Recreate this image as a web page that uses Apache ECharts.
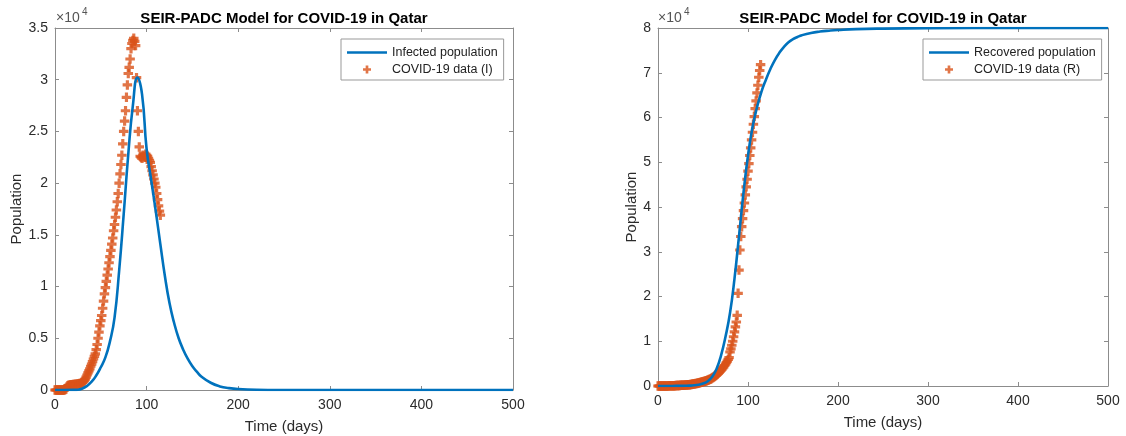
<!DOCTYPE html>
<html>
<head>
<meta charset="utf-8">
<title>SEIR-PADC Model for COVID-19 in Qatar</title>
<script src="https://cdn.jsdelivr.net/npm/echarts/dist/echarts.min.js"></script>
<style>
  html, body { margin: 0; padding: 0; background: #fff; }
  #box { width: 1126px; height: 436px; }
</style>
</head>
<body>
<div id="box"></div>
<script>
const modelDays = [0, 10, 20, 25, 30, 35, 40, 45, 50, 55, 60, 65, 70, 75, 80, 85, 90, 95, 100, 105,
  110, 115, 120, 125, 130, 135, 140, 145, 150, 155, 160, 170, 180, 190, 200, 220, 250, 300, 400, 500];

// SEIR-PADC model, infected population
const infectedModel = [0, 0, 10, 30, 150, 400, 800, 1400, 2200, 3150, 4700, 7000, 11500, 17000, 22800, 27500, 30200, 28600, 23300, 20300,
  17300, 14100, 11000, 8400, 6500, 5000, 3900, 3000, 2300, 1750, 1290, 700, 350, 180, 90, 25, 5, 0, 0, 0];

// SEIR-PADC model, recovered population
const recoveredModel = [0, 0, 20, 30, 50, 80, 150, 300, 550, 1000, 2000, 3800, 6800, 11000, 16300, 24000, 33500, 43200, 51500, 57800,
  62300, 65800, 68500, 70900, 72900, 74500, 75800, 76800, 77500, 78000, 78400, 78900, 79200, 79400, 79550, 79750, 79870, 79950, 80000, 80000];

// reported data (I), one value per day starting at day 0
const infectedData = [
  0, 0, 0, 0, 0, 0, 0, 0, 0, 0, 0,
  50, 100, 300, 400, 450, 450, 480, 500, 500, 520,
  520, 540, 550, 560, 580, 600, 620, 640, 680, 720,
  800, 900, 1050, 1250, 1450, 1650, 1850, 2050, 2300, 2500,
  2750, 3000, 3250, 3500, 3900, 4400, 5000, 5600, 6200, 6700,
  7200, 7900, 8600, 9300, 9900, 10500, 11100, 11700, 12300, 12900,
  13500, 14100, 14700, 15400, 16000, 16700, 17400, 18200, 19000, 20000,
  20900, 21800, 22700, 23800, 25000, 26000, 27000, 28300, 29500, 30600,
  31200, 32000, 33000, 33500, 33800, 34000, 33700, 33300, 30200, 27000,
  25000, 23500, 22600, 22500, 22400, 22700, 22600, 22500, 22800, 22700,
  22600, 22400, 22200, 22000, 21600, 21200, 20800, 20400, 20000, 19600,
  19000, 18400, 17800, 17300, 16900
];

// reported data (R), one value per day starting at day 0
const recoveredData = [
  0, 0, 0, 0, 0, 0, 0, 0, 10, 10,
  20, 20, 30, 30, 40, 40, 50, 60, 70, 80,
  90, 100, 110, 120, 130, 140, 150, 160, 170, 180,
  200, 220, 240, 260, 280, 300, 330, 360, 390, 420,
  460, 500, 540, 580, 620, 670, 720, 780, 840, 900,
  970, 1000, 1060, 1120, 1190, 1260, 1340, 1430, 1530, 1640,
  1760, 1890, 2030, 2180, 2340, 2510, 2690, 2880, 3080, 3300,
  3530, 3770, 4020, 4290, 4580, 4890, 5220, 5570, 5940, 6330,
  7600, 8300, 9100, 10000, 11000, 12100, 13200, 14300, 15800,
  20700, 25900, 30400, 33400, 35600, 37400, 39200, 40900, 42700, 44500,
  46200, 48000, 49700, 51500, 53200, 55000, 56700, 58500, 60200, 62000,
  63700, 65500, 67200, 69000, 70500, 71800
];

const xTicks = [0, 100, 200, 300, 400, 500];

const blue = '#0072BD';
const orange = '#D95319';
const boxColor = '#8c8c8c';
const labelColor = '#2b2b2b';
const font = '"Liberation Sans", Arial, sans-serif';
const plus = 'path://M3,0H6V3H9V6H6V9H3V6H0V3H3Z';
const lineIcon = 'path://M0,0H40V2.6H0Z';

const containerDom = document.getElementById('box');
const myChart = echarts.init(containerDom, null, { renderer: 'canvas' });

// MATLAB style box: ticks inside on all four sides
const axisBase = (gridIndex, position, showLabel) => ({
  gridIndex: gridIndex,
  type: 'value',
  position: position,
  axisLine: { show: true, onZero: false, lineStyle: { color: boxColor, width: 1 } },
  axisTick: { show: true, inside: true, length: 4, lineStyle: { color: boxColor } },
  axisLabel: { show: showLabel, color: labelColor, fontSize: 14, fontFamily: font, margin: 8 },
  splitLine: { show: false }
});

const xAxis = (gridIndex, position, showLabel) => Object.assign(axisBase(gridIndex, position, showLabel), {
  min: xTicks[0],
  max: xTicks[xTicks.length - 1],
  interval: xTicks[1] - xTicks[0],
  name: showLabel ? 'Time (days)' : '',
  nameLocation: 'middle',
  nameGap: 29,
  nameTextStyle: { fontSize: 15, color: labelColor, fontFamily: font }
});

const yAxis = (gridIndex, position, showLabel, max, step, nameGap) => {
  const ax = Object.assign(axisBase(gridIndex, position, showLabel), {
    min: 0,
    max: max,
    interval: step,
    name: showLabel ? 'Population' : '',
    nameLocation: 'middle',
    nameGap: nameGap,
    nameTextStyle: { fontSize: 15, color: labelColor, fontFamily: font }
  });
  ax.axisLabel.margin = 7;
  ax.axisLabel.formatter = v => v / 10000;
  return ax;
};

const legendBase = {
  orient: 'vertical',
  top: 39,
  padding: [6, 6, 3, 6],
  itemWidth: 40,
  itemHeight: 8,
  itemGap: 2,
  selectedMode: false,
  backgroundColor: '#fff',
  borderColor: '#999',
  borderWidth: 1,
  borderRadius: 0,
  textStyle: { fontSize: 12.5, color: '#222', fontFamily: font, lineHeight: 15 }
};

const titleStyle = { fontSize: 15, fontWeight: 'bold', color: '#000', fontFamily: font };
const tenStyle = { text: '×10', fontSize: 14, fill: '#555', fontFamily: font };
const powStyle = { text: '4', fontSize: 10, fill: '#555', fontFamily: font };

const option = {
  animation: false,
  backgroundColor: '#fff',
  title: [
    { text: 'SEIR-PADC Model for COVID-19 in Qatar', left: 284, top: 11, padding: 0, textAlign: 'center', textStyle: titleStyle },
    { text: 'SEIR-PADC Model for COVID-19 in Qatar', left: 883, top: 11, padding: 0, textAlign: 'center', textStyle: titleStyle }
  ],
  grid: [
    { left: 55, top: 28, width: 458, height: 362, outerBoundsMode: 'none' },
    { left: 658, top: 28, width: 450, height: 358, outerBoundsMode: 'none' }
  ],
  xAxis: [
    xAxis(0, 'bottom', true),
    xAxis(0, 'top', false),
    xAxis(1, 'bottom', true),
    xAxis(1, 'top', false)
  ],
  yAxis: [
    yAxis(0, 'left', true, 35000, 5000, 29),
    yAxis(0, 'right', false, 35000, 5000, 0),
    yAxis(1, 'left', true, 80000, 10000, 18),
    yAxis(1, 'right', false, 80000, 10000, 0)
  ],
  legend: [
    Object.assign({}, legendBase, {
      left: 341,
      data: [{ name: 'Infected population', icon: lineIcon }, { name: 'COVID-19 data (I)', icon: plus }]
    }),
    Object.assign({}, legendBase, {
      left: 923,
      data: [{ name: 'Recovered population', icon: lineIcon }, { name: 'COVID-19 data (R)', icon: plus }]
    })
  ],
  // the x10^4 multiplier above each y axis
  graphic: [
    { type: 'text', x: 56, y: 11, style: tenStyle },
    { type: 'text', x: 82, y: 7, style: powStyle },
    { type: 'text', x: 658, y: 11, style: tenStyle },
    { type: 'text', x: 684, y: 7, style: powStyle }
  ],
  series: [
    {
      name: 'Infected population',
      type: 'line',
      xAxisIndex: 0,
      yAxisIndex: 0,
      smooth: 0.5,
      symbol: 'none',
      symbolKeepAspect: true,
      color: blue,
      lineStyle: { color: blue, width: 2.6 },
      data: modelDays.map((d, i) => [d, infectedModel[i]])
    },
    {
      name: 'COVID-19 data (I)',
      type: 'scatter',
      xAxisIndex: 0,
      yAxisIndex: 0,
      symbol: plus,
      symbolSize: 9.5,
      symbolKeepAspect: true,
      color: orange,
      itemStyle: { color: orange },
      data: infectedData.map((v, i) => [i, v])
    },
    {
      name: 'Recovered population',
      type: 'line',
      xAxisIndex: 2,
      yAxisIndex: 2,
      smooth: 0.5,
      symbol: 'none',
      symbolKeepAspect: true,
      color: blue,
      lineStyle: { color: blue, width: 2.6 },
      data: modelDays.map((d, i) => [d, recoveredModel[i]])
    },
    {
      name: 'COVID-19 data (R)',
      type: 'scatter',
      xAxisIndex: 2,
      yAxisIndex: 2,
      symbol: plus,
      symbolSize: 9.5,
      symbolKeepAspect: true,
      color: orange,
      itemStyle: { color: orange },
      data: recoveredData.map((v, i) => [i, v])
    }
  ]
};

myChart.setOption(option);
</script>
</body>
</html>
